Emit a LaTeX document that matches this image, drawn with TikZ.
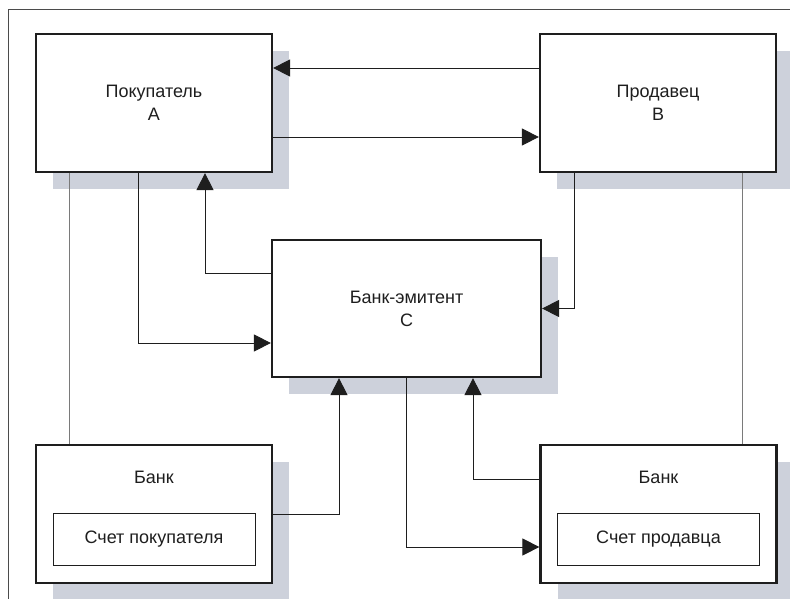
\documentclass[tikz,border=0pt]{standalone}
\usepackage{fontspec}
\setmainfont{Liberation Sans}
\usetikzlibrary{arrows.meta,shadows}
\definecolor{ink}{HTML}{1E1E1E}
\definecolor{wire}{HTML}{7A7A7A}
\definecolor{shade}{HTML}{CDD1DB}

\begin{document}
\begin{tikzpicture}[x=1pt, y=-1pt,
  font=\fontsize{18}{23}\selectfont, text=ink,
  party/.style={draw=ink, line width=2.2pt, fill=white, align=center,
    minimum width=236pt, minimum height=138pt, inner sep=0,
    general shadow={fill=shade, shadow xshift=17pt, shadow yshift=-17pt}},
  acct/.style={draw=ink, line width=1pt, fill=white,
    minimum width=202pt, minimum height=52pt, inner sep=0},
  flow/.style={draw=ink, line width=0.9pt,
    -{Triangle[length=17pt, width=17pt]}},
  link/.style={draw=wire, line width=0.9pt}]

\useasboundingbox (0,0) rectangle (790,599);

% ---- frame
\draw[ink!80, line width=1pt] (8,599) -- (8,10) -- (790,10);

% ---- parties
\node[party] (buyer)  at (154,103) {Покупатель\\А};
\node[party] (seller) at (658,103) {Продавец\\В};
\node[party, minimum width=269pt, minimum height=137pt]
  (issuer) at (406.5,308.5) {Банк-эмитент\\С};

% ---- banks with accounts
\node[party] (bankL) at (154,514) {};
\node[anchor=base] (bankLt) at ([yshift=-40pt]bankL.north) {Банк};
\node[acct] (acctL) at ([yshift=-25pt]bankL.center) {Счет покупателя};

\node[party] (bankR) at (658.5,514) {};
\node[anchor=base] (bankRt) at ([yshift=-40pt]bankR.north) {Банк};
\node[acct] (acctR) at ([yshift=-25pt]bankR.center) {Счет продавца};

% ---- buyer <-> seller
\draw[flow] ([yshift=35pt]seller.west) -- ([yshift=35pt]buyer.east);
\draw[flow] ([yshift=-34pt]buyer.east) -- ([yshift=-34pt]seller.west);

% ---- parties <-> issuing bank
\draw[flow] ([xshift=-16pt]buyer.south) |- ([yshift=-34.5pt]issuer.west);
\draw[flow] ([yshift=35pt]issuer.west) -| ([xshift=51pt]buyer.south);
\draw[flow] ([xshift=-84pt]seller.south) |- (issuer.east);

% ---- issuing bank <-> banks
\draw[flow] (bankL.east) -| ([xshift=-67.5pt]issuer.south);
\draw[flow] (issuer.south) |- ([yshift=-33pt]bankR.west);
\draw[flow] ([yshift=35pt]bankR.west) -| ([xshift=66.5pt]issuer.south);

% ---- parties to their banks
\draw[link] ([xshift=-85pt]buyer.south) -- ([xshift=-85pt]bankL.north);
\draw[link] ([xshift=84pt]seller.south) -- ([xshift=83.5pt]bankR.north);

\end{tikzpicture}
\end{document}
